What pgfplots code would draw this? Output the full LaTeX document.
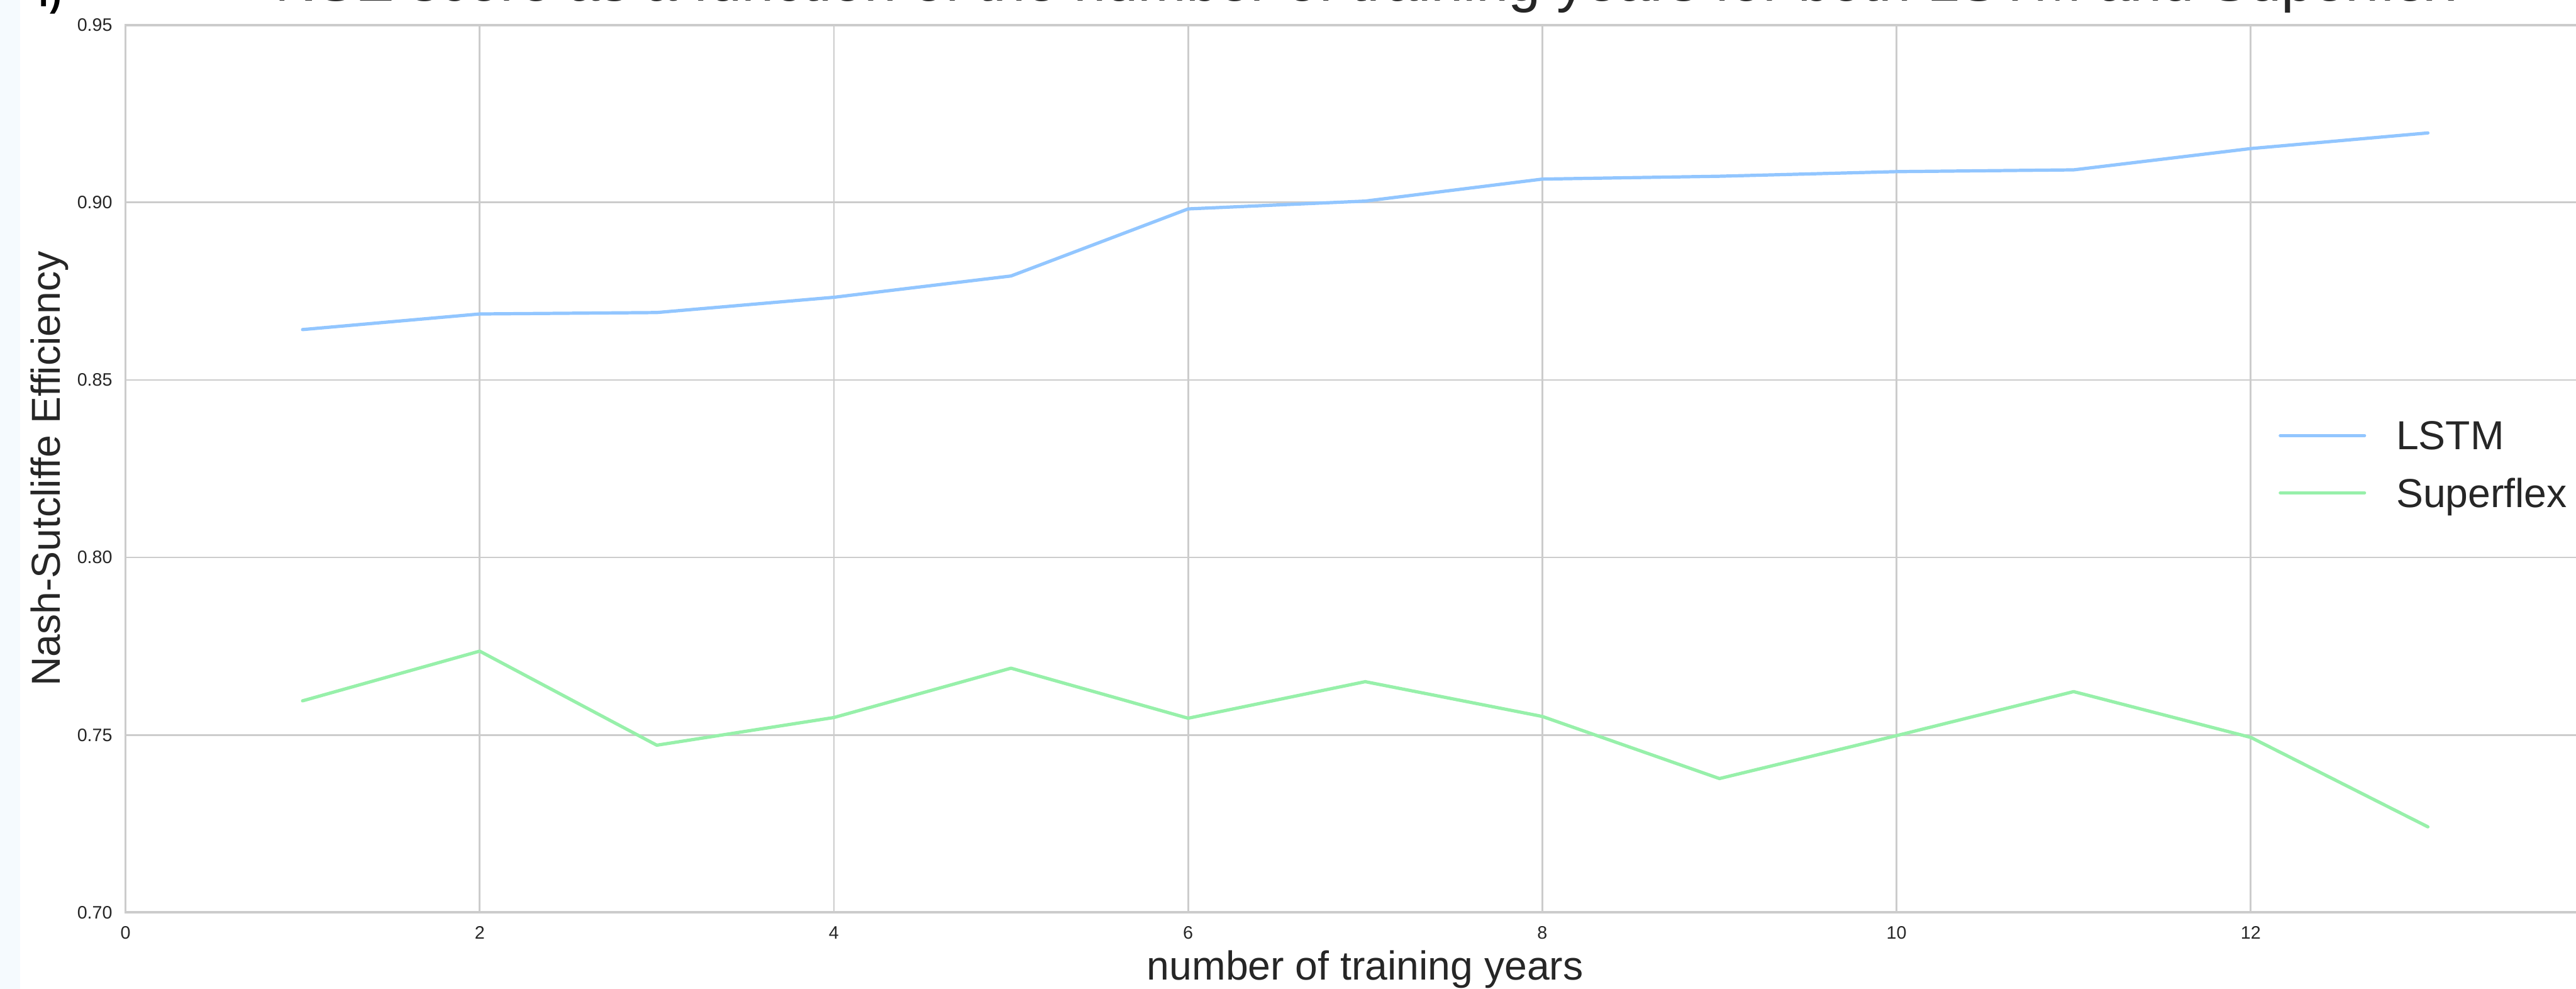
\documentclass[border=0pt]{standalone}
\usepackage{pgfplots}
\pgfplotsset{compat=1.18}
\usepackage{fontspec}
\setmainfont{Liberation Sans}
\definecolor{lstm}{HTML}{92C6FF}
\definecolor{sflex}{HTML}{97F0AA}
\definecolor{gridc}{HTML}{CCCCCC}
\definecolor{txt}{HTML}{262626}
\definecolor{strip}{RGB}{245,250,254}
\begin{document}
\begin{tikzpicture}
\useasboundingbox (-45.9pt,-27.94pt) rectangle (896.5pt,333.66pt);
\clip (-45.9pt,-27.94pt) rectangle (896.5pt,333.66pt);
\fill[strip] (-45.9pt,-27.94pt) rectangle (-38.5pt,333.66pt);
\node[anchor=base west, inner sep=0pt, font=\fontsize{13}{15}\selectfont\bfseries] at (-32.1pt,331.3pt) {f)};
\begin{axis}[
  at={(0pt,0pt)}, anchor=south west,
  scale only axis, width=907.1pt, height=324.5pt,
  xmin=0, xmax=14, ymin=0.70, ymax=0.95,
  xtick={0,2,4,6,8,10,12},
  ytick={0.70,0.75,0.80,0.85,0.90,0.95},
  /pgf/number format/assume math mode=true,
  y tick label style={/pgf/number format/.cd, fixed, fixed zerofill, precision=2},
  tick label style={font=\fontsize{6.6}{8}\selectfont, color=txt, inner sep=0pt},
  yticklabel shift=4.6pt,
  xticklabel shift=4.9pt,
  major tick length=0pt,
  tick style={draw=none},
  grid=major,
  major grid style={color=gridc, line width=0.66pt},
  axis line style={color=gridc, line width=0.8pt},
  title={NSE score as a function of the number of training years for both LSTM and Superflex},
  title style={at={(axis description cs:0.5,1.00844)}, anchor=base, inner sep=0pt, font=\fontsize{21.2}{25}\selectfont, color=txt},
  xlabel={number of training years},
  xlabel style={at={(axis description cs:0.5,-0.0761)}, anchor=base, inner sep=0pt, font=\fontsize{14.8}{17}\selectfont, color=txt},
  ylabel={Nash-Sutcliffe Efficiency},
  ylabel style={at={(axis description cs:-0.02635,0.5)}, anchor=base, inner sep=0pt, font=\fontsize{14.8}{17}\selectfont, color=txt},
  legend cell align=left,
  legend image code/.code={\draw[#1, line cap=round] (0pt,0pt) -- (30.8pt,0pt);},
  legend style={draw=none, fill=none, at={(axis description cs:0.8684,0.5532)}, anchor=north west,
    inner sep=0pt, outer sep=0pt, row sep=10.4pt, column sep=11pt,
    font=\fontsize{14.8}{17}\selectfont, text=txt,
    nodes={inner sep=0pt, text depth=0pt}},
]
\addplot[color=lstm, line width=1.2pt, line join=round, line cap=round] coordinates {
(1,0.8642) (2,0.8686) (3,0.8690) (4,0.8733) (5,0.8793) (6,0.8982) (7,0.9004)
(8,0.9066) (9,0.9074) (10,0.9087) (11,0.9092) (12,0.9152) (13,0.9196)};
\addlegendentry{LSTM}
\addplot[color=sflex, line width=1.2pt, line join=round, line cap=round] coordinates {
(1,0.7596) (2,0.7736) (3,0.7471) (4,0.7549) (5,0.7688) (6,0.7547) (7,0.7650)
(8,0.7552) (9,0.7377) (10,0.7498) (11,0.7622) (12,0.7493) (13,0.7241)};
\addlegendentry{Superflex}
\end{axis}
\end{tikzpicture}
\end{document}
